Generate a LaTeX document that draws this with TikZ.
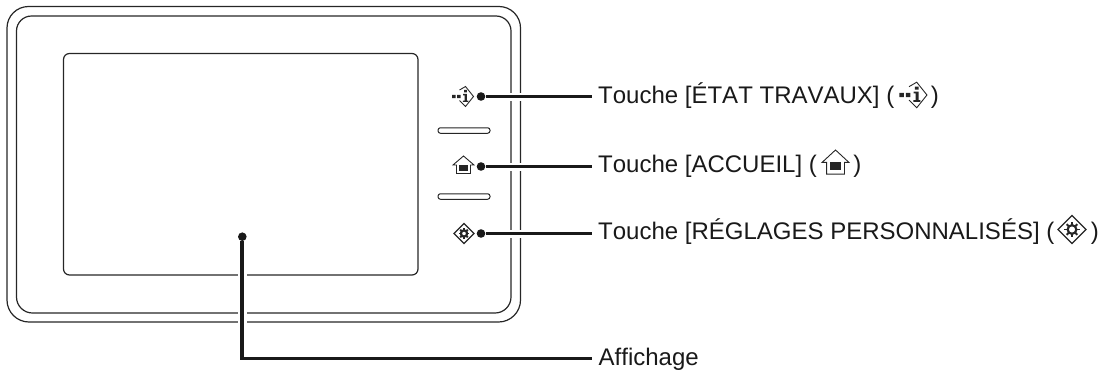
\documentclass[tikz,border=0pt]{standalone}
\usepackage{fontspec}
\setmainfont[Kerning=Off]{Liberation Sans}
\tikzset{
  x=1pt,y=-1pt,
  panel/.style={draw=black!85,line width=1.2pt},
  pill/.style={draw=black!85,line width=1pt,fill=white,rounded corners=2.4pt},
  halo/.style={draw=white,line width=8pt},
  leader/.style={draw=black!90,line width=3.7pt},
  dot/.style={circle,fill=black!90,inner sep=0pt,minimum size=8.6pt},
  lbl/.style={font=\fontsize{24pt}{28pt}\selectfont,inner sep=0pt,anchor=base west,text=black!90},
  icon/.style={draw=black!85,line width=.9pt,line join=miter},
  pics/infoicon/.style={code={
    \draw[icon] (-6,-6.5) -- (0,-10) -- (8,0) -- (0,10) -- (-6,4);
    \fill[black!85] (-13.5,-1.7) rectangle (-10,1.7) (-8.5,-1.7) rectangle (-5,1.7);
    \fill[black!85] (-1.4,-6.6) rectangle (1.4,-4.2) (-2.4,-2.6) rectangle (1.4,-1.2) (-.9,-2.6) rectangle (1.4,4) (-2.6,4) rectangle (2.8,5.4);
  }},
  pics/homeicon/.style={code={
    \draw[icon] (0,-9) -- (10.5,0) -- (7,0) -- (7,8.5) -- (-7,8.5) -- (-7,0) -- (-10.5,0) -- cycle;
    \fill[black!85] (-4.5,0) rectangle (4.5,5.5);
  }},
  pics/gearicon/.style={code={
    \draw[icon,line width=1.3pt] (-10,0) -- (0,-10) -- (10,0) -- (0,10) -- cycle;
    \foreach \a in {0,45,...,315} {\draw[black!85,line width=1.9pt] (\a:3) -- (\a:5.4);}
    \draw[black!85,line width=2.2pt] (0,0) circle (3.1);
  }},
}
\begin{document}
\begin{tikzpicture}
\useasboundingbox (0,0) rectangle (1099,370);
% panel
\draw[panel] (7,28) arc[start angle=180,end angle=270,radius=21.5] -- (499,6.5) arc[start angle=-90,end angle=0,radius=21.5] -- (520.5,300) arc[start angle=0,end angle=90,radius=22] -- (29,322) arc[start angle=90,end angle=180,radius=22] -- cycle;
\draw[panel] (16.5,31) arc[start angle=180,end angle=270,radius=15] -- (496,16) arc[start angle=-90,end angle=0,radius=15] -- (511,297) arc[start angle=0,end angle=90,radius=16] -- (32.5,313) arc[start angle=90,end angle=180,radius=16] -- cycle;
\node[panel,rounded corners=6pt,inner sep=0pt,minimum width=354.5pt,minimum height=221.5pt] (screen) at (240.75,164.25) {};
% buttons
\node[pill,inner sep=0pt,minimum width=52pt,minimum height=5.5pt] (pillA) at (464,130.5) {};
\node[pill,inner sep=0pt,minimum width=52pt,minimum height=5.5pt] (pillB) at (464,196.5) {};
% icons
\pic at (465.5,96.5) {infoicon};
\pic at (463.5,165) {homeicon};
\pic at (464,233.5) {gearicon};
% anchors
\node[dot] (dA) at (481,96.5) {};
\node[dot] (dB) at (481,166.5) {};
\node[dot] (dC) at (481,233.5) {};
\node[dot] (dD) at (242.3,236.7) {};
\coordinate (eA) at (592,96.5);
\coordinate (eB) at (592,166.5);
\coordinate (eC) at (592,233.5);
\coordinate (eD) at (592,358.5);
\coordinate (bD) at (242.3,358.5);
% halos over the panel lines
\draw[halo] (505,96.5) -- (527,96.5) (505,166.5) -- (527,166.5) (505,233.5) -- (527,233.5);
\draw[draw=white,line width=9.5pt] (242.3,271) -- (242.3,279) (242.3,308) -- (242.3,326);
% leaders
\draw[leader] (dA) -- (eA);
\draw[leader] (dB) -- (eB);
\draw[leader] (dC) -- (eC);
\draw[leader,line join=miter] (dD) -- (bD) -- (eD);
% labels
\node[lbl] (tA) at (598,103) {Touche [ÉTAT TRAVAUX] (\hspace{36.5pt})};
\node[lbl] (tB) at (598,172.5) {Touche [ACCUEIL] (\hspace{36.5pt})};
\node[lbl] (tC) at (598,239.5) {Touche [RÉGLAGES PERSONNALISÉS] (\hspace{36.5pt})};
\node[lbl] (tD) at (598.5,365) {Affichage};
\pic[scale=1.28] at (916.7,95) {infoicon};
\pic[xscale=1.28,yscale=1.38] at (835.5,162.4) {homeicon};
\pic[scale=1.4] at (1072,229.5) {gearicon};
\end{tikzpicture}
\end{document}
